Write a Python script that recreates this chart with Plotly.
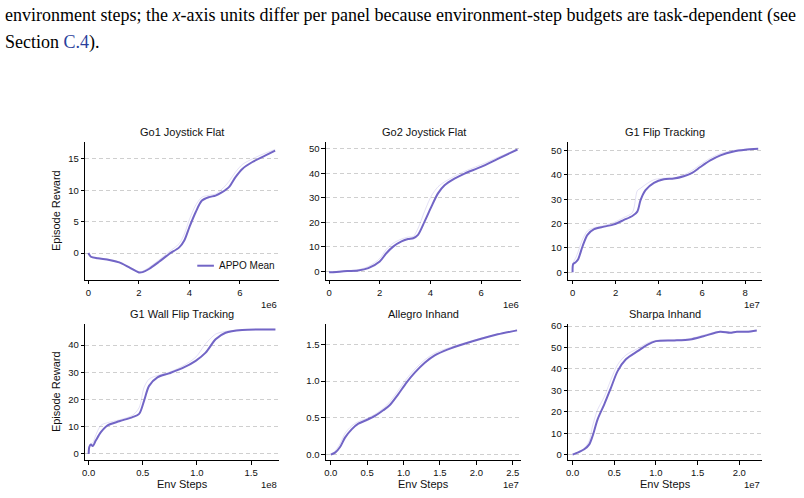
import plotly.graph_objects as go

# ---------------- data ----------------
titles = ["Go1 Joystick Flat", "Go2 Joystick Flat", "G1 Flip Tracking",
          "G1 Wall Flip Tracking", "Allegro Inhand", "Sharpa Inhand"]
exps = ["1e6", "1e6", "1e7", "1e8", "1e7", "1e7"]
legend_label = "APPO Mean"

go1_x = [0, 0.1, 0.37, 0.83, 1.22, 1.62, 2.0, 2.15, 2.4, 2.8, 3.2, 3.6, 3.8, 4.0, 4.25, 4.5,
         4.78, 5.04, 5.3, 5.57, 5.83, 6.1, 6.5, 7.0, 7.4]
go1_mean = [0, -0.6, -0.85, -1.1, -1.5, -2.3, -3.1, -3.05, -2.55, -1.4, -0.15, 0.9, 2.0, 4.1,
            6.5, 8.35, 8.9, 9.15, 9.7, 10.5, 12.1, 13.4, 14.5, 15.5, 16.3]
go1_seed = [0, -0.5, -0.8, -1.0, -1.4, -2.2, -3.0, -2.9, -2.3, -1.1, 0.2, 1.5, 3.0, 5.3,
            7.6, 8.9, 9.2, 9.4, 10.2, 11.4, 12.9, 14.1, 15.0, 15.9, 16.5]

go2_x = [0, 0.5, 1.15, 1.55, 2.0, 2.26, 2.53, 2.86, 3.12, 3.32, 3.51, 3.77, 4.04, 4.3, 4.56,
         4.95, 5.35, 6.0, 6.66, 7.44]
go2_mean = [-0.4, 0, 0.4, 1.35, 4.05, 7.4, 10.1, 12.2, 13.2, 13.5, 14.9, 20.3, 26.4, 31.8,
            35.1, 37.8, 39.9, 42.6, 45.9, 49.7]
go2_seed = [-0.3, 0.2, 0.7, 2.0, 5.2, 9.0, 11.5, 13.2, 14.0, 14.2, 17.5, 24.5, 30.8, 34.5,
            36.5, 38.8, 40.8, 43.5, 46.5, 49.9]

g1f_x = [0, 0.03, 0.15, 0.26, 0.46, 0.69, 1.0, 1.46, 1.92, 2.38, 2.77, 3.0, 3.15, 3.38, 3.77,
         4.23, 4.69, 5.15, 5.54, 5.92, 6.38, 6.85, 7.46, 8.0, 8.6]
g1f_mean = [0, 3.4, 4.2, 5.4, 10.6, 15.4, 17.7, 18.75, 19.7, 21.5, 23.1, 24.9, 29.6, 33.7,
            36.7, 38.2, 38.45, 39.4, 40.8, 43.2, 45.9, 48.0, 49.6, 50.3, 50.7]
g1f_seed = [0, 4.0, 6.0, 8.5, 13.5, 17.0, 18.3, 19.2, 20.5, 22.5, 24.5, 33.5, 34.5, 36.0,
            38.0, 38.6, 38.7, 40.0, 41.8, 44.2, 46.8, 48.7, 50.0, 50.5, 50.8]

g1w_x = [0, 0.006, 0.02, 0.037, 0.067, 0.113, 0.175, 0.282, 0.405, 0.466, 0.512, 0.558,
         0.635, 0.742, 0.865, 0.988, 1.08, 1.172, 1.264, 1.417, 1.724]
g1w_mean = [0, 2.55, 3.5, 2.9, 5.0, 8.0, 10.5, 12.0, 13.5, 14.7, 19.6, 25.0, 28.1, 29.6,
            31.5, 34.2, 37.2, 42.1, 44.5, 45.5, 45.7]
g1w_seed = [0, 3.0, 3.8, 4.0, 7.0, 10.5, 11.5, 12.5, 14.2, 17.0, 24.5, 27.5, 28.8, 30.0,
            32.2, 35.5, 40.5, 44.0, 45.0, 45.6, 45.8]

alg_x = [0, 0.06, 0.128, 0.196, 0.287, 0.379, 0.493, 0.607, 0.721, 0.812, 0.926, 1.04,
         1.154, 1.291, 1.428, 1.61, 1.838, 2.066, 2.294, 2.559]
alg_mean = [0, 0.027, 0.104, 0.231, 0.344, 0.421, 0.471, 0.526, 0.603, 0.675, 0.82, 0.979,
            1.115, 1.25, 1.35, 1.432, 1.509, 1.577, 1.636, 1.69]
alg_seed = [0, 0.05, 0.15, 0.29, 0.39, 0.45, 0.49, 0.55, 0.63, 0.72, 0.87, 1.03,
            1.16, 1.29, 1.38, 1.45, 1.52, 1.585, 1.64, 1.695]

shp_x = [0, 0.06, 0.14, 0.2, 0.24, 0.3, 0.38, 0.46, 0.54, 0.64, 0.78, 0.9, 1.0, 1.22, 1.41,
         1.57, 1.77, 1.89, 1.97, 2.09, 2.21]
shp_mean = [0, 0.93, 2.5, 4.8, 8.7, 16.5, 23.5, 31.2, 39.0, 44.5, 48.3, 51.4, 53.0, 53.3,
            53.8, 55.3, 57.4, 56.9, 57.4, 57.4, 58.0]
shp_seed = [0, 1.2, 3.0, 6.5, 13.5, 21.0, 27.0, 35.0, 42.0, 46.5, 49.5, 52.2, 53.3, 53.5,
            54.2, 55.8, 57.6, 57.2, 57.5, 57.6, 58.1]

scales = [1e6, 1e6, 1e7, 1e8, 1e7, 1e7]
xs = [go1_x, go2_x, g1f_x, g1w_x, alg_x, shp_x]
means = [go1_mean, go2_mean, g1f_mean, g1w_mean, alg_mean, shp_mean]
seeds = [go1_seed, go2_seed, g1f_seed, g1w_seed, alg_seed, shp_seed]

x_ticks = [[0, 2, 4, 6], [0, 2, 4, 6], [0, 2, 4, 6, 8], [0, 0.5, 1.0, 1.5],
           [0, 0.5, 1.0, 1.5, 2.0, 2.5], [0, 0.5, 1.0, 1.5, 2.0]]
x_ticktext = [["0", "2", "4", "6"], ["0", "2", "4", "6"], ["0", "2", "4", "6", "8"],
              ["0.0", "0.5", "1.0", "1.5"], ["0.0", "0.5", "1.0", "1.5", "2.0", "2.5"],
              ["0.0", "0.5", "1.0", "1.5", "2.0"]]
y_ticks = [[0, 5, 10, 15], [0, 10, 20, 30, 40, 50], [0, 10, 20, 30, 40, 50],
           [0, 10, 20, 30, 40], [0, 0.5, 1.0, 1.5], [0, 10, 20, 30, 40, 50, 60]]
y_ticktext = [None, None, None, None, ["0.0", "0.5", "1.0", "1.5"], None]
x_ranges = [[-0.118, 7.54], [-0.118, 7.58], [-0.203, 8.77], [-0.03, 1.754],
            [-0.064, 2.614], [-0.053, 2.271]]
y_ranges = [[-4.24, 17.66], [-3.36, 52.7], [-2.98, 53.4], [-2.3, 47.8],
            [-0.076, 1.78], [-2.6, 61.1]]

# ---------------- layout ----------------
W, H = 804, 498
col_dom = [[82.7 / W, 276.7 / W], [324.3 / W, 520 / W], [567.3 / W, 761.7 / W]]
row_dom = [[1 - 278.3 / H, 1 - 140 / H], [1 - 460 / H, 1 - 322.7 / H]]

MAIN = "#7265c6"
SEED = "rgba(120,105,205,0.20)"
FONT = "Liberation Sans, Arial, sans-serif"
TXT = "#111"
TICK = 9.5

fig = go.Figure()
layout = dict(width=W, height=H, margin=dict(l=0, r=0, t=0, b=0),
              paper_bgcolor="white", plot_bgcolor="white",
              font=dict(family=FONT, size=TICK, color=TXT), showlegend=False)
annotations = []
shapes = []

for i in range(6):
    r, c = divmod(i, 3)
    ax = "" if i == 0 else str(i + 1)
    s = scales[i]
    xv = [v * s for v in xs[i]]
    fig.add_trace(go.Scatter(x=xv, y=seeds[i], mode="lines", xaxis="x" + ax, yaxis="y" + ax,
                             line=dict(color=SEED, width=1, shape="spline", smoothing=0.8),
                             hoverinfo="skip"))
    fig.add_trace(go.Scatter(x=xv, y=means[i], mode="lines", xaxis="x" + ax, yaxis="y" + ax,
                             name=legend_label,
                             line=dict(color=MAIN, width=2, shape="spline", smoothing=0.8)))
    xa = dict(domain=col_dom[c], anchor="y" + ax, range=[v * s for v in x_ranges[i]],
              tickvals=[v * s for v in x_ticks[i]], ticktext=x_ticktext[i],
              showline=True, linecolor="black", linewidth=1.2, ticks="outside",
              ticklen=3.5, tickwidth=1, tickcolor="black", showgrid=False, zeroline=False,
              tickfont=dict(size=TICK, family=FONT, color=TXT))
    ya = dict(domain=row_dom[r], anchor="x" + ax, range=y_ranges[i], tickvals=y_ticks[i],
              showline=True, linecolor="black", linewidth=1.2, ticks="outside",
              ticklen=3.5, tickwidth=1, tickcolor="black", showgrid=True,
              gridcolor="#cfcfcf", griddash="4px,3px", gridwidth=0.8, zeroline=False,
              tickfont=dict(size=TICK, family=FONT, color=TXT))
    if y_ticktext[i] is not None:
        ya["ticktext"] = y_ticktext[i]
    layout["xaxis" + ax] = xa
    layout["yaxis" + ax] = ya
    cx = (col_dom[c][0] + col_dom[c][1]) / 2
    ty = [1 - 130 / H, 1 - 312.5 / H][r]
    annotations.append(dict(text=titles[i], x=cx, y=ty, xref="paper", yref="paper",
                            showarrow=False, xanchor="center", yanchor="middle",
                            font=dict(size=11, family=FONT, color=TXT)))
    ey = [1 - 303 / H, 1 - 484.5 / H][r]
    annotations.append(dict(text=exps[i], x=col_dom[c][1], y=ey, xref="paper", yref="paper",
                            showarrow=False, xanchor="right", yanchor="middle",
                            font=dict(size=TICK, family=FONT, color=TXT)))
    if r == 1:
        annotations.append(dict(text="Env Steps", x=cx, y=1 - 484.3 / H, xref="paper",
                                yref="paper", showarrow=False, xanchor="center",
                                yanchor="middle", font=dict(size=11, family=FONT, color=TXT)))
    if c == 0:
        annotations.append(dict(text="Episode Reward", x=53.3 / W,
                                y=(row_dom[r][0] + row_dom[r][1]) / 2, xref="paper",
                                yref="paper", showarrow=False, textangle=-90,
                                xanchor="center", yanchor="middle",
                                font=dict(size=11, family=FONT, color=TXT)))

# legend (panel 1, lower right)
shapes.append(dict(type="line", xref="paper", yref="paper", x0=195 / W, x1=211.7 / W,
                   y0=1 - 264.3 / H, y1=1 - 264.3 / H, line=dict(color=MAIN, width=2)))
annotations.append(dict(text=legend_label, x=215 / W, y=1 - 264.3 / H, xref="paper",
                        yref="paper", showarrow=False, xanchor="left", yanchor="middle",
                        font=dict(size=10, family=FONT, color=TXT)))

# caption text at top
SERIF = "Liberation Serif, Times New Roman, serif"
annotations.append(dict(
    text="environment steps; the <i>x</i>-axis units differ per panel because environment-step budgets are task-dependent (see",
    x=0, y=1 - 13 / H, xref="paper", yref="paper", showarrow=False, xanchor="left",
    yanchor="middle", font=dict(size=18, family=SERIF, color="black")))
annotations.append(dict(
    text="Section <span style='color:#2a3f9c'>C.4</span>).",
    x=0, y=1 - 40 / H, xref="paper", yref="paper", showarrow=False, xanchor="left",
    yanchor="middle", font=dict(size=18, family=SERIF, color="black")))

layout["annotations"] = annotations
layout["shapes"] = shapes
fig.update_layout(**layout)
fig.write_html("out.html")
